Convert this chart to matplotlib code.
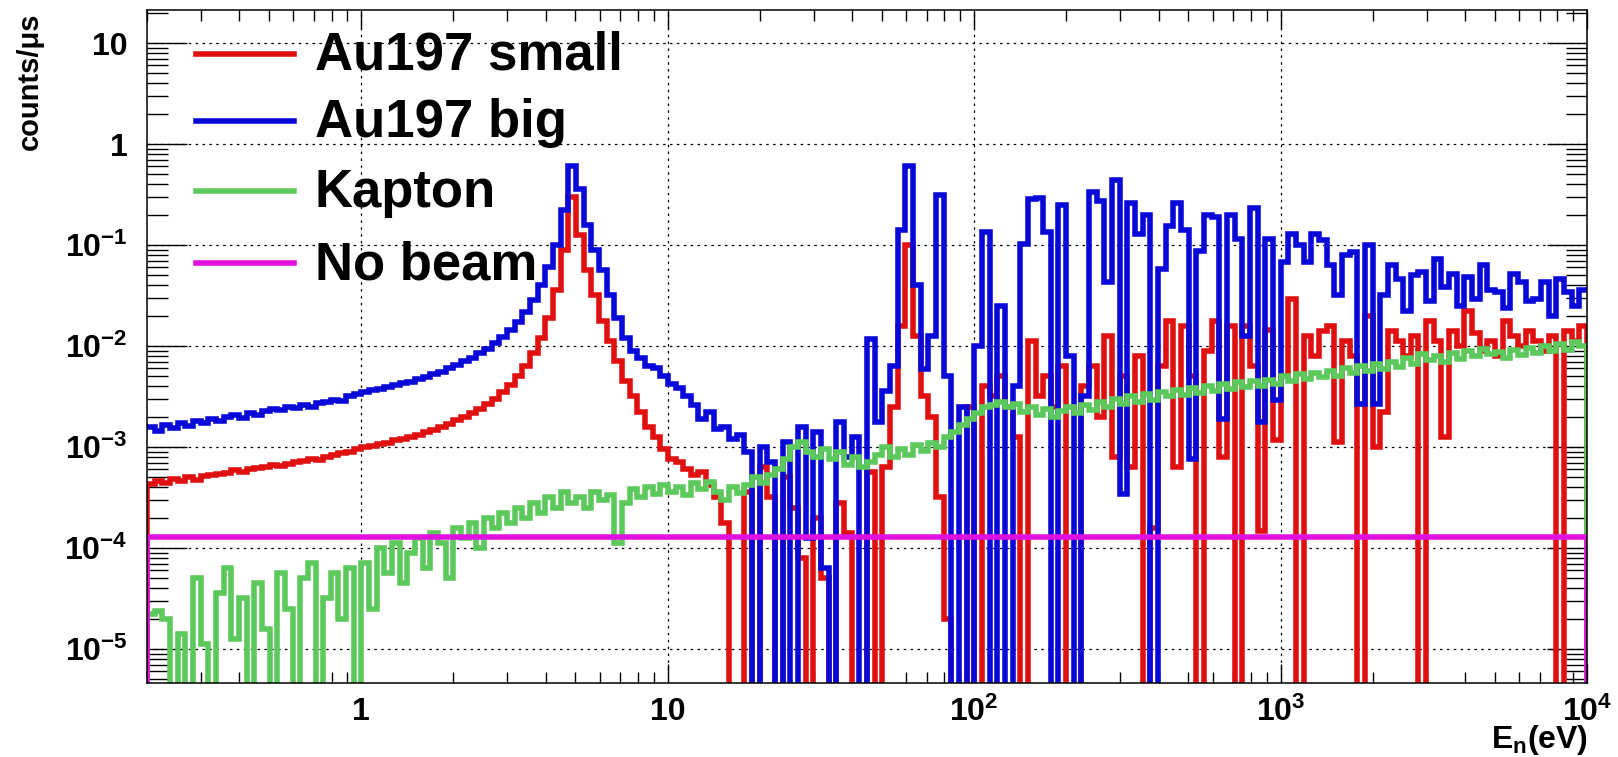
import numpy as np
import matplotlib
matplotlib.use("Agg")
import matplotlib.pyplot as plt
from matplotlib.ticker import LogLocator, FixedLocator, FuncFormatter, NullFormatter

plt.rcParams["font.family"] = ["Liberation Sans", "DejaVu Sans"]
plt.rcParams["font.weight"] = "bold"
plt.rcParams["mathtext.fontset"] = "custom"
plt.rcParams["mathtext.rm"] = "Liberation Sans:bold"
plt.rcParams["mathtext.it"] = "Liberation Sans:bold"
plt.rcParams["mathtext.bf"] = "Liberation Sans:bold"
plt.rcParams["mathtext.default"] = "rm"

E_MIN, E_MAX = 0.2, 1e4
ZERO = -9  # empty bin (drawn below the axis)

# log10(counts/us) per bin, 40 log bins per decade from 0.2 eV to 10 keV
au_small = [
    -3.37, -3.34, -3.36, -3.32, -3.34, -3.30, -3.33, -3.29, -3.28, -3.27,
    -3.26, -3.23, -3.25, -3.22, -3.21, -3.20, -3.18, -3.19, -3.17, -3.15,
    -3.14, -3.12, -3.13, -3.10, -3.08, -3.06, -3.05, -3.02,
    -3.00, -2.99, -2.97, -2.96, -2.93, -2.92, -2.90, -2.88, -2.85, -2.83, -2.80, -2.77,
    -2.73, -2.70, -2.66, -2.62, -2.57, -2.52, -2.46, -2.39, -2.30, -2.20,
    -2.07, -1.92, -1.72, -1.45, -1.05, -0.52,
    -0.90, -1.25, -1.50, -1.75, -1.95, -2.15, -2.35, -2.50, -2.65, -2.80, -2.90, -3.02, -3.12,
    -3.15, -3.22, -3.28, -3.25, -3.38, -3.50, -3.75, ZERO, ZERO, -3.45,
    ZERO, -3.20, -3.50, ZERO, -3.30, -3.60, -4.10, ZERO, -3.70, -4.30,
    ZERO, -3.55, -3.85, ZERO, ZERO, -3.25, ZERO, -3.20, -2.60,
    -1.80, -1.00, -1.90, -2.50, -2.70, -3.50, -4.70,
    ZERO, ZERO, -2.60, ZERO, -2.40, -2.50, -2.30, -2.60, -2.90, ZERO, -1.95,
    -2.50, -2.30, -2.60, -2.20, ZERO, ZERO, -2.40, -2.20, -2.70, -1.90, -3.10,
    -2.30, -3.20, -2.10, ZERO, -3.80, -2.20, -1.75, -3.20, -1.80, -2.30, ZERO,
    -2.05, -1.75, -3.10, -1.80, ZERO, -1.80, -2.20, -3.83, -1.84, -2.93,
    -2.30, -1.53, ZERO, -1.90, -2.10, -1.85, -1.80, -2.95, -1.95, -2.10,
    ZERO, -1.70, -3.00, -2.65, -1.85, -1.95, -2.10, -1.90, ZERO, -1.75,
    -1.95, -2.90, -1.85, -2.00, -1.65, -1.87, -2.05, -1.95, -2.10, -1.75,
    -1.90, -2.00, -1.85, -1.95, -2.05, -1.90, ZERO, -1.85, -1.95, -1.80,
]
au_big = [
    -2.80, -2.84, -2.78, -2.81, -2.76, -2.79, -2.74, -2.76, -2.72, -2.74,
    -2.70, -2.68, -2.71, -2.66, -2.68, -2.64, -2.62, -2.63, -2.60, -2.61,
    -2.58, -2.60, -2.56, -2.55, -2.53, -2.54, -2.50, -2.48,
    -2.46, -2.44, -2.43, -2.41, -2.39, -2.37, -2.36, -2.33, -2.31, -2.28, -2.26, -2.22,
    -2.19, -2.15, -2.12, -2.07, -2.03, -1.97, -1.91, -1.84, -1.76, -1.66,
    -1.54, -1.40, -1.22, -1.00, -0.65, -0.22,
    -0.45, -0.80, -1.05, -1.25, -1.50, -1.72, -1.92, -2.05, -2.12, -2.20, -2.22, -2.30, -2.38,
    -2.42, -2.50, -2.58, -2.72, -2.65, -2.82, -2.80, -2.92, -2.88, -3.05,
    ZERO, -3.00, -3.15, ZERO, -2.95, ZERO, -2.80, -3.90, -2.85, -4.20,
    ZERO, -2.75, -3.10, -2.90, ZERO, -1.93, -2.75, -2.45, -2.20,
    -0.85, -0.22, -1.40, -2.23, -1.90, -0.50, -2.30,
    ZERO, -2.60, ZERO, -2.00, -0.87, ZERO, -1.60, ZERO, -2.40, -0.99, -0.54,
    -0.53, -0.87, ZERO, -0.60, -2.10, ZERO, -2.50, -0.48, -0.56, -1.37, -0.36,
    -3.47, -0.58, -0.89, -0.70, ZERO, -1.24, -0.81, -0.58, -0.85, -3.12, -1.06,
    -0.70, -0.72, -2.72, -0.70, -0.94, -1.90, -0.63, -2.75, -0.94, -2.53,
    -1.17, -0.89, -1.00, -1.17, -0.89, -0.95, -1.20, -1.50, -1.10, -1.07,
    -2.57, -1.00, -2.57, -1.50, -1.20, -1.34, -1.65, -1.30, -1.27, -1.55,
    -1.14, -1.42, -1.29, -1.60, -1.32, -1.53, -1.20, -1.45, -1.47, -1.62,
    -1.29, -1.37, -1.55, -1.53, -1.37, -1.70, -1.34, -1.47, -1.60, -1.45,
]
kapton = [
    -4.65, -4.62, -4.70, ZERO, -4.85, ZERO, -4.30, -4.95, ZERO, -4.45,
    -4.20, -4.90, -4.50, ZERO, -4.35, -4.80, ZERO, -4.25, -4.60, ZERO,
    -4.30, -4.15, ZERO, -4.50, -4.25, -4.70, -4.20, ZERO,
    -4.15, -4.60, -4.00, -4.25, -3.95, -4.35, -4.05, -3.90, -4.20, -3.85, -3.95, -4.30,
    -3.80, -3.90, -3.75, -4.00, -3.70, -3.80, -3.65, -3.75, -3.60, -3.70,
    -3.55, -3.65, -3.50, -3.60, -3.45, -3.55, -3.50, -3.60, -3.45, -3.52,
    -3.48, -3.95, -3.55, -3.42, -3.50, -3.40, -3.47, -3.38, -3.45,
    -3.40, -3.48, -3.36, -3.42, -3.35, -3.45, -3.52, -3.40, -3.46, -3.38,
    -3.30, -3.36, -3.28, -3.22, -3.12, -3.00, -2.95, -3.05, -3.10, -3.02,
    -3.12, -3.05, -3.18, -3.10, -3.20, -3.15, -3.08, -3.00, -3.10, -3.02, -3.08,
    -2.98, -3.04, -2.96, -3.00, -2.90, -2.85, -2.78, -2.72, -2.66, -2.60,
    -2.58, -2.55, -2.60, -2.57, -2.65, -2.60, -2.68, -2.62, -2.70, -2.64,
    -2.60, -2.66, -2.58, -2.63, -2.55, -2.60, -2.52, -2.57, -2.50, -2.55,
    -2.48, -2.53, -2.46, -2.50, -2.44, -2.49, -2.42, -2.47, -2.40, -2.45,
    -2.38, -2.43, -2.36, -2.41, -2.35, -2.40, -2.34, -2.38, -2.30, -2.35,
    -2.28, -2.33, -2.27, -2.31, -2.25, -2.30, -2.22, -2.27, -2.20, -2.25,
    -2.18, -2.23, -2.16, -2.21, -2.12, -2.18, -2.08, -2.14, -2.10, -2.16,
    -2.07, -2.13, -2.05, -2.10, -2.03, -2.08, -2.06, -2.12, -2.04, -2.09,
    -2.02, -2.07, -2.00, -2.05, -1.98, -2.04, -1.96, -2.00,
]
no_beam_level = 1.28e-4

labels = ["Au197 small", "Au197 big", "Kapton", "No beam"]
colors = ["#e01010", "#0808d8", "#5cc95c", "#e010e0"]
x_major = [1, 10, 100, 1000, 10000]
y_major = [1e-5, 1e-4, 1e-3, 1e-2, 1e-1, 1, 10]

edges = np.logspace(np.log10(E_MIN), np.log10(E_MAX), len(au_big) + 1)

W, H = 1618, 757
fig = plt.figure(figsize=(W / 100, H / 100), dpi=100)
ax = fig.add_axes([147 / W, 1 - 683 / H, (1587 - 147) / W, (683 - 10) / H])
ax.set_xscale("log")
ax.set_yscale("log")

lw = 4.0
ax.stairs(10 ** np.array(au_small), edges, baseline=1e-9, edgecolor=colors[0], linewidth=lw)
ax.stairs(10 ** np.array(au_big), edges, baseline=None, edgecolor=colors[1], linewidth=lw)
ax.stairs(10 ** np.array(kapton), edges, baseline=1e-9, edgecolor=colors[2], linewidth=lw)
ax.stairs(np.full(len(edges) - 1, no_beam_level), edges, baseline=1e-9,
          edgecolor=colors[3], linewidth=lw)

ax.set_xlim(E_MIN, E_MAX)
ax.set_ylim(10 ** -5.337, 10 ** 1.327)


def logfmt(v, pos):
    k = int(round(np.log10(v)))
    if k == 0:
        return "1"
    if k == 1:
        return "10"
    return r"$10^{%d}$" % k


ax.xaxis.set_major_locator(FixedLocator(x_major))
ax.xaxis.set_minor_locator(LogLocator(base=10, subs=np.arange(2, 10), numticks=20))
ax.yaxis.set_major_locator(FixedLocator(y_major))
ax.yaxis.set_minor_locator(LogLocator(base=10, subs=np.arange(2, 10), numticks=20))
ax.xaxis.set_major_formatter(FuncFormatter(logfmt))
ax.yaxis.set_major_formatter(FuncFormatter(logfmt))
ax.xaxis.set_minor_formatter(NullFormatter())
ax.yaxis.set_minor_formatter(NullFormatter())

ax.tick_params(axis="x", which="major", direction="in", length=14, width=1,
               top=True, bottom=True, pad=10, labelsize=23)
ax.tick_params(axis="x", which="minor", direction="in", length=8, width=1,
               top=True, bottom=True)
ax.tick_params(axis="y", which="major", direction="in", length=29, width=1,
               left=True, right=True, pad=14, labelsize=23)
ax.tick_params(axis="y", which="minor", direction="in", length=15, width=1,
               left=True, right=True)
for s in ax.spines.values():
    s.set_linewidth(1.1)

ax.grid(True, which="major", color="black", linestyle=(0, (2, 3.5)), linewidth=0.9)
ax.set_axisbelow(True)

fig.text(30 / W, 1 - 12 / H, "counts/\u03bcs", rotation=90, ha="center", va="top",
         fontsize=21, fontweight="bold")
fig.text(1588 / W, 1 - 740 / H, r"E$_n$(eV)", ha="right", va="center", fontsize=23)

# legend drawn by hand (no frame, like ROOT TLegend without border)
rows_y = [54, 121, 191, 263]
for lab, col, ry in zip(labels, colors, rows_y):
    fy = 1 - ry / H
    fig.add_artist(plt.Line2D([196 / W, 294 / W], [fy, fy], color=col, lw=4,
                              transform=fig.transFigure))
    fig.text(315 / W, 1 - (ry + 16) / H, lab, ha="left", va="baseline",
             fontsize=38, fontweight="bold")

fig.savefig("out.png", dpi=100)
